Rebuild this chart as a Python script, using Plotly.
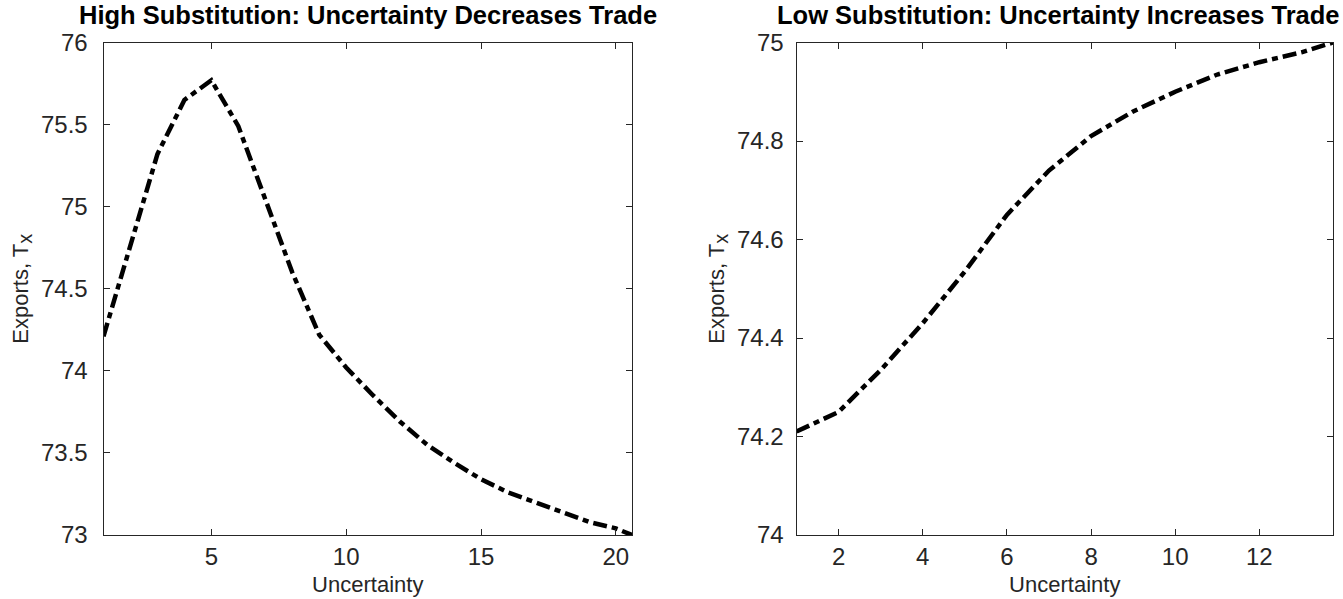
import plotly.graph_objects as go

# Data
left_x = [1, 2, 3, 4, 5, 6, 7, 8, 9, 10, 11, 12, 13, 14, 15, 16, 17, 18, 19, 20, 20.6]
left_y = [74.21, 74.77, 75.32, 75.65, 75.77, 75.49, 75.05, 74.60, 74.22, 74.02, 73.85,
          73.69, 73.55, 73.44, 73.34, 73.26, 73.20, 73.14, 73.08, 73.04, 73.00]

right_x = [1, 2, 3, 4, 5, 6, 7, 8, 9, 10, 11, 12, 13, 13.75]
right_y = [74.21, 74.25, 74.335, 74.43, 74.535, 74.65, 74.74, 74.81, 74.86, 74.90,
           74.935, 74.96, 74.98, 75.00]

left_title = "High Substitution: Uncertainty Decreases Trade"
right_title = "Low Substitution: Uncertainty Increases Trade"
x_label = "Uncertainty"
y_label = "Exports, T<sub><span style='font-size:20px'>x</span></sub>"

left_xticks = [5, 10, 15, 20]
left_yticks = [73, 73.5, 74, 74.5, 75, 75.5, 76]
right_xticks = [2, 4, 6, 8, 10, 12]
right_yticks = [74, 74.2, 74.4, 74.6, 74.8, 75]

W, H = 1343, 599
FONT = "Liberation Sans, Arial, Helvetica, sans-serif"
AX = "#262626"

line_style = dict(color="black", width=4.5, dash="14px,5px,6px,5px")

fig = go.Figure()
fig.add_trace(go.Scatter(x=left_x, y=left_y, mode="lines", line=line_style,
                         xaxis="x", yaxis="y", showlegend=False))
fig.add_trace(go.Scatter(x=right_x, y=right_y, mode="lines", line=line_style,
                         xaxis="x2", yaxis="y2", showlegend=False))

# plot areas in pixels
L1, R1 = 103.5, 632
L2, R2 = 796.5, 1333
T, B = 42.5, 535
ydom = [(H - B) / H, (H - T) / H]

common_axis = dict(
    showgrid=False, zeroline=False, showline=True, linecolor=AX, linewidth=1,
    mirror="ticks", ticks="inside", ticklen=6, tickwidth=1, tickcolor=AX,
    tickfont=dict(family=FONT, size=24, color=AX), automargin=False,
)

def xaxis(dom, rng, tv, anchor):
    d = dict(common_axis)
    d.update(domain=dom, range=rng, tickvals=tv, anchor=anchor,
             title=dict(text=x_label, font=dict(family=FONT, size=22, color=AX), standoff=7))
    return d

def yaxis(rng, tv, anchor, lso):
    d = dict(common_axis)
    d.update(domain=ydom, range=rng, tickvals=tv, anchor=anchor,
             ticktext=[("%g" % v) for v in tv], ticklabelstandoff=lso,
             title=dict(text=y_label, font=dict(family=FONT, size=22, color=AX), standoff=6))
    return d

fig.update_layout(
    width=W, height=H,
    margin=dict(l=0, r=0, t=0, b=0),
    paper_bgcolor="white", plot_bgcolor="white",
    xaxis=xaxis([L1 / W, R1 / W], [1, 20.6], left_xticks, "y"),
    yaxis=yaxis([73, 76], left_yticks, "x", 10),
    xaxis2=xaxis([L2 / W, R2 / W], [1, 13.75], right_xticks, "y2"),
    yaxis2=yaxis([74, 75], right_yticks, "x2", 7),
    annotations=[
        dict(text="<b>%s</b>" % left_title, x=(L1 + R1) / 2 / W, y=(H - T + 11) / H,
             xref="paper", yref="paper", xanchor="center", yanchor="bottom",
             showarrow=False, font=dict(family=FONT, size=25.5, color="black")),
        dict(text="<b>%s</b>" % right_title, x=(L2 + R2 - 12) / 2 / W, y=(H - T + 11) / H,
             xref="paper", yref="paper", xanchor="center", yanchor="bottom",
             showarrow=False, font=dict(family=FONT, size=25.5, color="black")),
    ],
)

fig.write_html("out.html", config={"displayModeBar": False},
               post_script="document.body.style.margin='0';document.body.style.overflow='hidden';")
